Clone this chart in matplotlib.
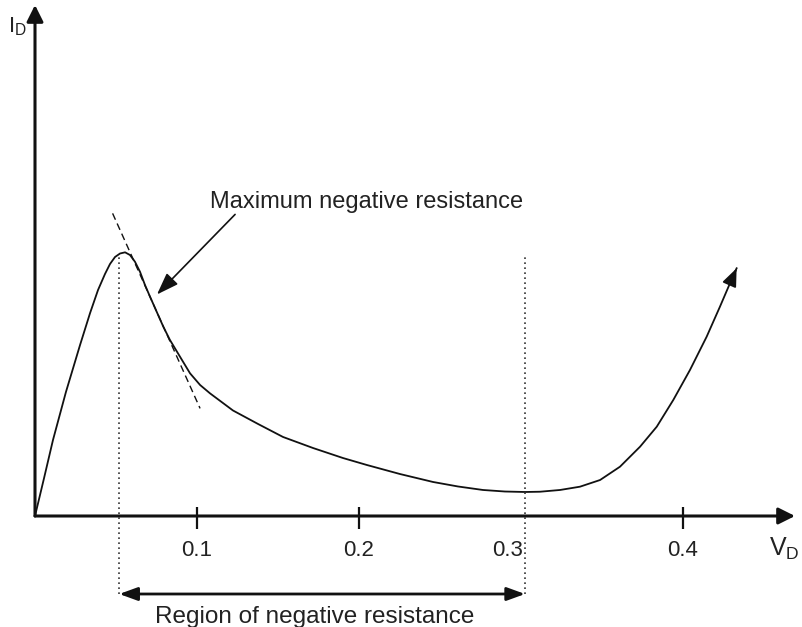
#!/usr/bin/env python3
import matplotlib.pyplot as plt

plt.rcParams['font.family'] = ['Liberation Sans', 'DejaVu Sans']

# tunnel diode I-V characteristic (V in volts, I in arbitrary units)
v_curve = [0.0, 0.0056, 0.0111, 0.0191, 0.0278, 0.0340, 0.0389, 0.0432, 0.0463,
           0.0494, 0.0525, 0.0556, 0.0586, 0.0617, 0.0648, 0.0679, 0.0710, 0.0751,
           0.0792, 0.0833, 0.0895, 0.0957, 0.1019, 0.1080, 0.1222, 0.1377, 0.1531,
           0.1716, 0.1901, 0.2049, 0.2253, 0.2457, 0.2611, 0.2765, 0.2901, 0.3025,
           0.3117, 0.3241, 0.3364, 0.3488, 0.3611, 0.3735, 0.3838, 0.3940, 0.4043,
           0.4146, 0.4228, 0.4290, 0.4331]
i_curve = [0.0, 0.717, 1.434, 2.340, 3.226, 3.830, 4.264, 4.566, 4.755,
           4.887, 4.953, 4.975, 4.925, 4.798, 4.609, 4.358, 4.138, 3.855,
           3.572, 3.321, 3.006, 2.692, 2.472, 2.315, 1.991, 1.736, 1.491,
           1.283, 1.094, 0.962, 0.792, 0.642, 0.557, 0.491, 0.462, 0.453,
           0.458, 0.491, 0.553, 0.679, 0.930, 1.308, 1.685, 2.189, 2.755,
           3.383, 3.949, 4.391, 4.674]

# tangent at the point of maximum negative resistance
v_tangent = [0.0479, 0.1019]
i_tangent = [5.71, 2.03]

v_peak = 0.052
v_valley = 0.3025
i_dotted_top = 4.92

tick_values = [0.1, 0.2, 0.4]
label_values = [0.1, 0.2, 0.3, 0.4]
label_texts = ["0.1", "0.2", "0.3", "0.4"]

# pixel mapping: 1620 px per volt, 53 px per current unit
fig = plt.figure(figsize=(8.03, 6.27), dpi=100)
ax = fig.add_axes([0, 0, 1, 1])
ax.set_xlim(-35 / 1620, (803 - 35) / 1620)
ax.set_ylim(-(627 - 516) / 53, 516 / 53)
ax.axis('off')

x_end = (795 - 35) / 1620
y_end = (516 - 5) / 53
arrow_y = (516 - 594) / 53

# axes with arrow heads
axis_arrow = dict(arrowstyle='-|>,head_length=1.0,head_width=0.5', mutation_scale=10,
                  lw=2.2, color='#111111', shrinkA=0, shrinkB=0)
ax.annotate('', xy=(x_end, 0), xytext=(0, 0), arrowprops=axis_arrow)
ax.annotate('', xy=(0, y_end), xytext=(0, 0), arrowprops=axis_arrow)

# ticks
tick_up = 9 / 53
tick_dn = 13 / 53
for t in tick_values:
    ax.plot([t, t], [-tick_dn, tick_up], color='#111111', lw=1.6, solid_capstyle='butt')
for t, s in zip(label_values, label_texts):
    dx = -10 if s == "0.3" else 0
    ax.annotate(s, xy=(t, -24 / 53), xytext=(dx, 0), textcoords='offset points',
                ha='center', va='top', fontsize=16, color='#222222')

# curve
ax.plot(v_curve, i_curve, color='#111111', lw=1.3, solid_joinstyle='round')
ax.annotate('', xy=(v_curve[-1], i_curve[-1]), xytext=(v_curve[-2], i_curve[-2]),
            arrowprops=dict(arrowstyle='-|>,head_length=1.1,head_width=0.45', mutation_scale=10,
                            lw=1.3, color='#111111', shrinkA=0, shrinkB=0))

# tangent
ax.plot(v_tangent, i_tangent, color='#111111', lw=1.0, linestyle=(0, (5, 3)))

# dotted verticals
for v in (v_peak, v_valley):
    ax.plot([v, v], [arrow_y, i_dotted_top], color='#333333', lw=1.2, linestyle=(0, (1, 2)))

# region arrow
ax.annotate('', xy=(v_peak, arrow_y), xytext=(v_valley, arrow_y),
            arrowprops=dict(arrowstyle='<|-|>,head_length=1.1,head_width=0.4', mutation_scale=10,
                            lw=2.0, color='#111111', shrinkA=0, shrinkB=0))
ax.text(0.1728, -2.02, "Region of negative resistance",
        ha='center', va='baseline', fontsize=17.5, color='#222222')

# maximum negative resistance annotation
ax.annotate('', xy=(0.0753, 4.18), xytext=(0.1235, 5.69),
            arrowprops=dict(arrowstyle='-|>,head_length=1.35,head_width=0.48', mutation_scale=10,
                            lw=1.2, color='#111111', shrinkA=0, shrinkB=0))
ax.text(0.108, 5.82, "Maximum negative resistance", ha='left', va='baseline',
        fontsize=17, color='#222222')

# axis labels
ax.text(-0.0111, 9.24, r"$\mathregular{I_D}$", ha='center', va='center',
        fontsize=16, color='#222222')
ax.text(0.4623, -0.62, r"$\mathregular{V_D}$", ha='center', va='center',
        fontsize=18, color='#222222')

fig.savefig("out.png", dpi=100)
